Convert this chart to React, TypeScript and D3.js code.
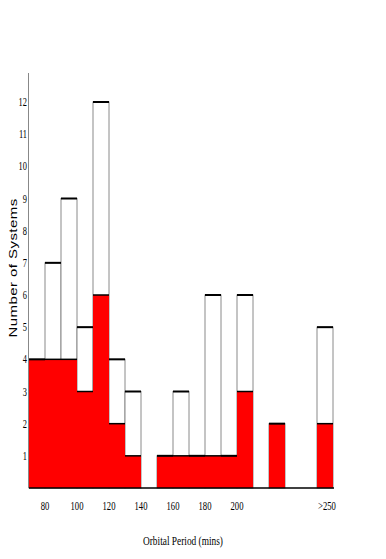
import React, { useEffect, useRef } from 'react';
import * as d3 from 'd3';

const W = 386;
const H = 559;

// bin starts (minutes), last bin is ">250"
const BIN_STARTS = [70, 80, 90, 100, 110, 120, 130, 140, 150, 160, 170, 180, 190, 200, 210, 220, 230, 240, 250];
const TOTALS = [4, 7, 9, 5, 12, 4, 3, 0, 1, 3, 1, 6, 1, 6, 0, 2, 0, 0, 5];
const RED = [4, 4, 4, 3, 6, 2, 1, 0, 1, 1, 1, 1, 1, 3, 0, 2, 0, 0, 2];
const X_TICKS = [80, 100, 120, 140, 160, 180, 200];
const Y_TICKS = [1, 2, 3, 4, 5, 6, 7, 8, 9, 10, 11, 12];

export default function App() {
  const ref = useRef<SVGSVGElement>(null);

  useEffect(() => {
    const svg = d3.select(ref.current);
    svg.selectAll('*').remove();

    const x = d3.scaleLinear().domain([70, 260]).range([29, 333]);
    const y = d3.scaleLinear().domain([0, 12]).range([488, 102]);

    const data = BIN_STARTS.map((s, i) => ({ s, total: TOTALS[i], red: RED[i] }))
      .filter(d => d.total > 0);

    const g = svg.append('g');

    // white part with grey sides
    g.selectAll('.outer').data(data).enter()
      .append('rect')
      .attr('x', d => x(d.s))
      .attr('y', d => y(d.total))
      .attr('width', d => x(d.s + 10) - x(d.s))
      .attr('height', d => y(0) - y(d.total))
      .attr('fill', '#fff')
      .attr('stroke', '#8a8a8a')
      .attr('stroke-width', 1);

    // red part
    g.selectAll('.red').data(data.filter(d => d.red > 0)).enter()
      .append('rect')
      .attr('x', d => x(d.s))
      .attr('y', d => y(d.red))
      .attr('width', d => x(d.s + 10) - x(d.s))
      .attr('height', d => y(0) - y(d.red))
      .attr('fill', '#ff0000');

    // black top edges
    g.selectAll('.top').data(data).enter()
      .append('line')
      .attr('x1', d => x(d.s)).attr('x2', d => x(d.s + 10))
      .attr('y1', d => y(d.total)).attr('y2', d => y(d.total))
      .attr('stroke', '#000').attr('stroke-width', 2);

    g.selectAll('.redtop').data(data.filter(d => d.red > 0 && d.red < d.total)).enter()
      .append('line')
      .attr('x1', d => x(d.s)).attr('x2', d => x(d.s + 10))
      .attr('y1', d => y(d.red)).attr('y2', d => y(d.red))
      .attr('stroke', '#000').attr('stroke-width', 1.5);

    // axes lines
    svg.append('line')
      .attr('x1', 28.5).attr('x2', 28.5).attr('y1', 73).attr('y2', y(0))
      .attr('stroke', '#888').attr('stroke-width', 1);
    svg.append('line')
      .attr('x1', 29).attr('x2', 334).attr('y1', y(0)).attr('y2', y(0))
      .attr('stroke', '#000').attr('stroke-width', 1.5);

    // y tick labels
    svg.selectAll('.ytl').data(Y_TICKS).enter()
      .append('text')
      .attr('transform', d => `translate(27,${y(d) + 4}) scale(0.7,1)`)
      .attr('text-anchor', 'end')
      .attr('font-family', 'Liberation Serif')
      .attr('font-size', 12)
      .attr('fill', '#000')
      .text(d => d);

    // x tick labels
    svg.selectAll('.xtl').data(X_TICKS).enter()
      .append('text')
      .attr('transform', d => `translate(${x(d)},${510}) scale(0.72,1)`)
      .attr('text-anchor', 'middle')
      .attr('font-family', 'Liberation Serif')
      .attr('font-size', 12)
      .attr('fill', '#000')
      .text(d => d);

    svg.append('text')
      .attr('transform', `translate(${x(255) + 2},510) scale(0.72,1)`)
      .attr('text-anchor', 'middle')
      .attr('font-family', 'Liberation Serif')
      .attr('font-size', 12)
      .text('>250');

    // axis titles
    svg.append('text')
      .attr('transform', 'translate(183,545) scale(0.78,1)')
      .attr('text-anchor', 'middle')
      .attr('font-family', 'Liberation Serif')
      .attr('font-size', 12)
      .text('Orbital Period (mins)');

    svg.append('text')
      .attr('transform', 'translate(17,268) rotate(-90) scale(1.5,1)')
      .attr('text-anchor', 'middle')
      .attr('font-family', 'Liberation Sans')
      .attr('font-size', 10)
      .attr('letter-spacing', 0.3)
      .text('Number of Systems');
  }, []);

  return (
    <svg ref={ref} width={W} height={H}
      style={{ position: 'absolute', left: 0, top: 0, background: '#fff' }} />
  );
}
